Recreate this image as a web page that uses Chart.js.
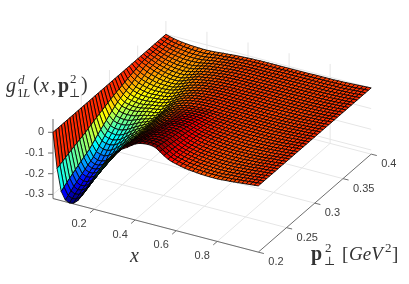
<!DOCTYPE html>
<html>
<head>
<meta charset="utf-8">
<style>
  html, body { margin: 0; padding: 0; background: #fff; }
  canvas { display: block; }
</style>
<script src="https://cdn.jsdelivr.net/npm/chart.js@4"></script>
</head>
<body>
<canvas id="surface" width="409" height="284"></canvas>
<script>
const xValues = [0,.02,.04,.06,.08,.1,.12,.14,.16,.18,.2,.22,.24,.26,.28,.3,.32,.34,.36,.38,.4,.42,.44,.46,.48,.5,.52,.54,.56,.58,.6,.62,.64,.66,.68,.7,.72,.74,.76,.78,.8,.82,.84,.86,.88,.9,.92,.94,.96,.98,1];
const pValues = [.2,.205,.21,.215,.22,.225,.23,.235,.24,.245,.25,.255,.26,.265,.27,.275,.28,.285,.29,.295,.3,.305,.31,.315,.32,.325,.33,.335,.34,.345,.35,.355,.36,.365,.37,.375,.38,.385,.39,.395,.4];
const xTicks = [.2,.4,.6,.8];
const pTicks = [.2,.25,.3,.35,.4];
const zTicks = [0,-.1,-.2,-.3];
const xTickLabels = ['0.2','0.4','0.6','0.8'];
const pTickLabels = ['0.2','0.25','0.3','0.35','0.4'];
const zTickLabels = ['0','-0.1','-0.2','-0.3'];

// g values in thousandths, one row per p, one column per x
const gRows = [
[0,-170,-275,-312,-321,-317,-300,-272,-240,-205,-170,-132,-98,-70,-46,-24,-5,8,20,34,47,55,59,61,60,55,41,27,15,7,2,-3,-7,-10,-12,-14,-16,-17,-18,-18,-18,-17,-15,-14,-12,-10,-8,-6,-4,-2,0],
[0,-164,-266,-302,-311,-308,-292,-265,-234,-200,-167,-130,-98,-71,-48,-26,-8,6,18,31,44,52,56,58,57,52,39,26,14,7,2,-3,-7,-10,-12,-14,-15,-16,-17,-17,-17,-17,-15,-14,-12,-10,-8,-6,-4,-2,0],
[0,-158,-256,-292,-301,-298,-283,-258,-228,-196,-163,-129,-98,-73,-50,-28,-10,3,15,28,40,48,53,55,54,49,37,24,13,6,2,-3,-7,-9,-11,-13,-15,-16,-17,-17,-17,-16,-14,-13,-12,-10,-8,-6,-4,-2,0],
[0,-152,-247,-282,-292,-289,-275,-251,-222,-191,-160,-127,-99,-74,-51,-31,-13,1,13,25,37,45,49,51,51,46,34,23,13,6,1,-3,-6,-9,-11,-13,-14,-15,-16,-16,-16,-16,-14,-13,-11,-10,-8,-6,-4,-2,0],
[0,-146,-238,-273,-283,-280,-267,-244,-217,-187,-157,-126,-99,-75,-53,-33,-15,-1,11,23,34,42,47,49,48,43,32,21,12,6,1,-3,-6,-9,-11,-12,-14,-15,-16,-16,-16,-15,-14,-13,-11,-10,-8,-6,-4,-2,0],
[0,-141,-230,-264,-274,-272,-260,-238,-211,-183,-154,-125,-99,-76,-54,-35,-17,-4,8,20,31,39,44,46,45,41,30,20,11,5,1,-3,-6,-8,-10,-12,-13,-14,-15,-15,-15,-15,-13,-12,-11,-9,-7,-5,-4,-2,0],
[0,-135,-221,-255,-265,-263,-252,-232,-206,-179,-151,-123,-99,-78,-56,-37,-20,-6,6,18,28,36,41,43,42,38,28,19,11,5,1,-3,-6,-8,-10,-11,-13,-14,-15,-15,-15,-14,-13,-12,-11,-9,-7,-5,-4,-2,0],
[0,-130,-213,-246,-256,-255,-245,-225,-201,-174,-148,-122,-99,-79,-58,-39,-22,-8,4,15,25,33,38,40,40,35,26,18,10,5,1,-3,-6,-8,-10,-11,-12,-13,-14,-14,-14,-14,-13,-12,-11,-9,-7,-5,-4,-2,0],
[0,-125,-205,-238,-248,-247,-238,-220,-196,-171,-145,-121,-100,-80,-59,-40,-24,-10,2,13,22,30,35,37,37,33,25,16,9,5,0,-3,-5,-8,-10,-11,-12,-13,-14,-14,-14,-14,-12,-11,-10,-9,-7,-5,-4,-2,0],
[0,-120,-198,-230,-240,-240,-231,-214,-191,-167,-143,-119,-100,-81,-61,-42,-26,-12,0,10,20,27,32,34,34,30,23,15,9,4,0,-3,-5,-7,-9,-10,-11,-12,-13,-13,-13,-13,-12,-11,-10,-9,-7,-5,-4,-2,0],
[0,-115,-190,-222,-232,-232,-224,-208,-186,-163,-140,-118,-100,-82,-62,-44,-28,-14,-2,8,17,25,30,32,32,28,21,14,8,4,0,-3,-5,-7,-9,-10,-11,-12,-13,-13,-13,-13,-12,-11,-10,-9,-7,-5,-4,-2,0],
[0,-108,-178,-208,-217,-218,-211,-196,-176,-155,-134,-114,-98,-80,-61,-43,-28,-15,-3,6,14,22,26,28,28,25,18,12,6,3,0,-3,-5,-7,-9,-10,-11,-12,-13,-13,-13,-13,-12,-11,-10,-9,-7,-5,-4,-2,0],
[0,-102,-166,-194,-203,-204,-197,-184,-166,-147,-128,-111,-96,-79,-60,-43,-28,-15,-5,4,12,18,22,24,24,21,15,10,5,2,-1,-4,-5,-7,-9,-10,-11,-11,-12,-12,-12,-12,-11,-10,-9,-8,-7,-5,-4,-2,0],
[0,-95,-154,-180,-188,-189,-184,-172,-156,-139,-122,-107,-93,-77,-59,-42,-28,-16,-6,2,9,15,19,20,20,18,13,8,3,1,-2,-4,-6,-7,-9,-10,-10,-11,-12,-12,-12,-12,-11,-10,-9,-8,-6,-5,-4,-2,0],
[0,-89,-143,-167,-175,-177,-172,-162,-147,-132,-117,-104,-91,-76,-58,-41,-28,-17,-7,0,7,12,15,17,17,15,10,6,2,0,-3,-5,-6,-7,-9,-9,-10,-11,-11,-11,-11,-11,-10,-10,-9,-8,-6,-5,-4,-2,0],
[0,-83,-132,-155,-162,-164,-160,-151,-138,-124,-112,-101,-89,-75,-57,-41,-28,-17,-8,-1,4,9,12,14,13,12,8,4,1,-1,-3,-5,-6,-8,-8,-9,-10,-10,-11,-11,-11,-11,-10,-9,-8,-7,-6,-4,-3,-1,0],
[0,-77,-121,-142,-149,-151,-148,-140,-129,-117,-107,-97,-87,-73,-56,-40,-28,-18,-9,-3,2,6,9,10,10,8,5,2,0,-2,-4,-6,-6,-8,-8,-9,-10,-10,-10,-10,-10,-10,-9,-9,-8,-7,-6,-4,-3,-1,0],
[0,-71,-110,-129,-136,-138,-136,-129,-120,-110,-101,-94,-85,-72,-55,-40,-28,-18,-11,-5,0,3,5,6,6,5,3,0,-2,-3,-4,-6,-7,-8,-8,-9,-9,-9,-10,-10,-10,-10,-9,-9,-8,-7,-6,-4,-3,-1,0],
[0,-66,-100,-118,-124,-126,-125,-119,-111,-103,-97,-91,-84,-71,-54,-39,-28,-19,-12,-6,-3,0,2,3,3,3,1,-2,-3,-4,-5,-6,-7,-8,-8,-8,-9,-9,-10,-10,-10,-10,-9,-8,-8,-7,-5,-4,-3,-1,0],
[0,-60,-90,-106,-112,-114,-113,-110,-103,-96,-92,-88,-82,-69,-53,-39,-28,-20,-13,-8,-5,-2,-1,0,0,0,-1,-3,-5,-5,-5,-7,-7,-8,-8,-8,-9,-9,-9,-9,-9,-9,-8,-8,-7,-6,-5,-4,-3,-1,0],
[0,-55,-80,-95,-100,-103,-103,-100,-95,-90,-87,-85,-80,-68,-52,-38,-28,-20,-14,-10,-7,-5,-4,-3,-3,-3,-4,-5,-6,-6,-6,-7,-7,-8,-8,-8,-9,-9,-9,-9,-9,-9,-8,-8,-7,-6,-5,-4,-3,-1,0],
[0,-50,-74,-88,-93,-97,-97,-95,-91,-86,-84,-81,-76,-64,-49,-36,-27,-20,-14,-10,-7,-5,-4,-3,-3,-3,-4,-5,-6,-6,-6,-7,-7,-8,-8,-8,-9,-9,-9,-9,-9,-9,-8,-8,-7,-6,-5,-4,-3,-1,0],
[0,-46,-67,-81,-86,-90,-91,-90,-86,-83,-80,-77,-72,-61,-47,-35,-26,-19,-14,-10,-8,-6,-5,-4,-4,-4,-5,-5,-6,-6,-6,-7,-7,-8,-8,-8,-9,-9,-9,-9,-9,-9,-8,-8,-7,-6,-5,-4,-3,-1,0],
[0,-41,-61,-74,-80,-84,-85,-85,-82,-79,-77,-73,-67,-57,-44,-33,-25,-19,-14,-11,-8,-6,-5,-4,-4,-4,-5,-6,-6,-6,-6,-7,-7,-8,-8,-8,-9,-9,-9,-9,-9,-9,-8,-8,-7,-6,-5,-4,-3,-1,0],
[0,-37,-55,-67,-73,-78,-80,-80,-78,-76,-74,-70,-64,-53,-41,-32,-25,-19,-14,-11,-8,-7,-6,-5,-5,-5,-5,-6,-6,-6,-6,-7,-7,-8,-8,-8,-9,-9,-9,-9,-9,-9,-8,-8,-7,-6,-5,-4,-3,-1,0],
[0,-32,-49,-61,-67,-72,-75,-76,-74,-73,-71,-66,-60,-50,-39,-31,-24,-18,-14,-11,-9,-7,-6,-5,-5,-5,-6,-6,-6,-6,-7,-7,-7,-8,-8,-8,-8,-8,-9,-9,-9,-8,-8,-8,-7,-6,-5,-4,-3,-1,0],
[0,-28,-43,-54,-61,-66,-70,-71,-70,-69,-67,-63,-56,-47,-36,-29,-23,-18,-14,-11,-9,-7,-6,-5,-5,-5,-6,-6,-6,-6,-7,-7,-7,-8,-8,-8,-8,-8,-8,-8,-8,-8,-8,-8,-7,-6,-5,-4,-3,-1,0],
[0,-24,-37,-48,-55,-60,-64,-66,-67,-66,-64,-59,-52,-43,-34,-28,-22,-18,-14,-11,-9,-8,-7,-6,-6,-6,-6,-6,-7,-7,-7,-7,-7,-8,-8,-8,-8,-8,-8,-8,-8,-8,-8,-8,-7,-6,-5,-4,-3,-1,0],
[0,-20,-32,-42,-49,-55,-60,-62,-63,-63,-62,-56,-49,-40,-32,-26,-21,-17,-14,-12,-10,-8,-7,-6,-6,-6,-6,-7,-7,-7,-7,-7,-7,-8,-8,-8,-8,-8,-8,-8,-8,-8,-8,-7,-7,-6,-5,-4,-3,-1,0],
[0,-16,-26,-36,-44,-49,-55,-58,-60,-60,-59,-53,-45,-37,-29,-25,-21,-17,-14,-12,-10,-9,-8,-7,-7,-7,-7,-7,-7,-7,-7,-7,-7,-8,-8,-8,-8,-8,-8,-8,-8,-8,-8,-7,-7,-6,-5,-4,-3,-1,0],
[0,-12,-21,-30,-38,-44,-50,-54,-56,-57,-56,-50,-42,-34,-27,-24,-20,-17,-14,-12,-10,-9,-8,-7,-7,-7,-7,-7,-7,-7,-7,-7,-7,-8,-8,-8,-8,-8,-8,-8,-8,-8,-8,-7,-7,-6,-5,-4,-3,-1,0],
[0,-11,-20,-28,-36,-42,-47,-51,-53,-54,-53,-47,-40,-33,-26,-23,-20,-17,-14,-12,-10,-9,-8,-7,-7,-7,-7,-7,-7,-7,-7,-7,-7,-8,-8,-8,-8,-8,-8,-8,-8,-8,-8,-7,-7,-6,-5,-4,-3,-1,0],
[0,-11,-19,-27,-34,-39,-44,-47,-49,-50,-49,-44,-38,-31,-25,-23,-19,-16,-14,-12,-10,-9,-8,-7,-7,-7,-8,-8,-8,-8,-8,-8,-8,-8,-8,-8,-8,-8,-8,-8,-8,-8,-8,-7,-7,-6,-5,-4,-3,-1,0],
[0,-10,-18,-25,-32,-37,-41,-44,-46,-47,-46,-41,-36,-30,-25,-22,-19,-16,-14,-12,-10,-9,-9,-8,-8,-8,-8,-8,-8,-8,-8,-8,-8,-8,-8,-8,-8,-8,-8,-8,-8,-8,-8,-7,-7,-6,-5,-4,-3,-1,0],
[0,-9,-17,-24,-30,-34,-38,-41,-42,-43,-43,-39,-34,-28,-24,-21,-18,-16,-14,-12,-10,-9,-9,-8,-8,-8,-8,-8,-8,-8,-8,-8,-8,-8,-8,-8,-8,-8,-8,-8,-8,-8,-8,-7,-7,-6,-5,-4,-3,-1,0],
[0,-9,-16,-23,-28,-32,-36,-38,-40,-41,-40,-37,-32,-27,-23,-21,-18,-16,-14,-12,-10,-9,-9,-8,-8,-8,-8,-8,-8,-8,-8,-8,-8,-8,-8,-8,-8,-8,-8,-8,-8,-8,-8,-7,-7,-6,-5,-4,-3,-1,0],
[0,-8,-15,-21,-26,-29,-33,-35,-37,-37,-36,-34,-30,-26,-22,-20,-17,-15,-13,-12,-11,-9,-9,-8,-8,-8,-8,-8,-8,-8,-8,-8,-8,-8,-8,-8,-8,-8,-8,-8,-8,-8,-8,-7,-7,-6,-5,-4,-3,-1,0],
[0,-8,-14,-19,-23,-27,-30,-32,-33,-34,-33,-31,-28,-24,-21,-20,-17,-15,-13,-12,-11,-10,-9,-9,-9,-9,-9,-9,-9,-8,-8,-8,-8,-8,-8,-8,-8,-8,-8,-8,-8,-8,-8,-7,-7,-6,-5,-4,-3,-1,0],
[0,-7,-13,-18,-21,-24,-27,-29,-30,-31,-31,-29,-26,-23,-20,-19,-17,-15,-13,-12,-11,-10,-10,-9,-9,-9,-9,-9,-9,-8,-8,-8,-8,-8,-8,-8,-8,-8,-8,-8,-8,-8,-7,-7,-7,-6,-5,-4,-2,-1,0],
[0,-6,-12,-16,-19,-22,-24,-26,-27,-28,-28,-26,-24,-22,-19,-19,-16,-14,-13,-12,-11,-10,-10,-9,-9,-9,-9,-9,-9,-9,-8,-8,-8,-8,-8,-8,-8,-8,-8,-8,-8,-8,-7,-7,-7,-6,-5,-4,-2,-1,0],
[0,-6,-11,-15,-18,-20,-22,-23,-24,-25,-25,-24,-23,-21,-19,-18,-16,-14,-13,-12,-11,-10,-10,-9,-9,-9,-9,-9,-9,-9,-9,-9,-9,-9,-9,-9,-8,-8,-8,-8,-8,-8,-7,-7,-6,-5,-4,-3,-2,-1,0],
];

const zFloor = -0.32;
const zTop = 0.064;
const zRange = zTop - zFloor;

// fixed view: orthographic projection of (x, p, g) onto the hidden page scales
const project = (x, p, z) => ({
  x: 53 + 205.3 * x + 564.5 * (p - 0.2),
  y: 132.3 + 53.6 * x - 490 * (p - 0.2) - 207 * z,
});

function jet(z) {
  const f = Math.min(1, Math.max(0, (z - zFloor) / zRange));
  const band = c => Math.round(255 * Math.min(1, Math.max(0, 1.5 - Math.abs(4 * f - c))));
  return `rgb(${band(3)},${band(2)},${band(1)})`;
}

const datasets = [];

// near cells first: chart.js paints the last dataset first
for (let j = 0; j < pValues.length - 1; j++) {
  for (let i = xValues.length - 2; i >= 0; i--) {
    const z = (a, b) => gRows[b][a] / 1000;
    const corners = [[i, j], [i + 1, j], [i + 1, j + 1], [i, j + 1], [i, j]];
    datasets.push({
      data: corners.map(([a, b]) => project(xValues[a], pValues[b], z(a, b))),
      backgroundColor: jet(z(i, j)),
      borderColor: '#000',
      borderWidth: 0.85,
      fill: 'shape',
      showLine: true,
      pointRadius: 0,
      tension: 0,
      clip: false,
    });
  }
}

function addLine(points, color, width) {
  datasets.push({
    data: points,
    borderColor: color,
    borderWidth: width,
    showLine: true,
    fill: false,
    pointRadius: 0,
    clip: false,
  });
}

const axisColor = '#6e6e6e';
const xMin = 0, xMax = 1, pMin = 0.2, pMax = 0.4;

xTicks.forEach(x => {
  const base = project(x, pMin, zFloor);
  addLine([base, { x: base.x - 4, y: base.y + 3.5 }], axisColor, 1);
});
pTicks.forEach(p => {
  const base = project(xMax, p, zFloor);
  addLine([base, { x: base.x + 5.6, y: base.y + 1.4 }], axisColor, 1);
});
zTicks.forEach(z => {
  const base = project(xMin, pMin, z);
  addLine([base, { x: base.x - 5, y: base.y }], axisColor, 1);
});
addLine([project(xMin, pMin, zFloor), project(xMax, pMin, zFloor)], axisColor, 1);
addLine([project(xMax, pMin, zFloor), project(xMax, pMax, zFloor)], axisColor, 1);
addLine([project(xMin, pMin, zFloor), project(xMin, pMin, zTop)], '#b4b4b4', 2);

const gridColor = '#e6e6e6';
xTicks.forEach(x => {
  addLine([project(x, pMin, zFloor), project(x, pMax, zFloor), project(x, pMax, zTop)], gridColor, 1);
});
pTicks.forEach(p => {
  addLine([project(xMax, p, zFloor), project(xMin, p, zFloor), project(xMin, p, zTop)], gridColor, 1);
});
zTicks.forEach(z => {
  addLine([project(xMin, pMin, z), project(xMin, pMax, z), project(xMax, pMax, z)], gridColor, 1);
});

const serif = '"Liberation Serif", serif';
const labelRuns = [
  ['g', 6, 92, `italic 20px ${serif}`],
  ['d', 18, 84, `italic 13px ${serif}`],
  ['1', 17, 97, `13px ${serif}`],
  ['L', 23, 97, `italic 13px ${serif}`],
  ['(', 33, 91, `20px ${serif}`],
  ['x', 40, 92, `italic 20px ${serif}`],
  [',', 51, 92, `20px ${serif}`],
  ['p', 58, 92, `bold 20px ${serif}`],
  ['2', 70, 83, `13px ${serif}`],
  ['⊥', 69, 97, `12px "DejaVu Serif", serif`],
  [')', 81, 91, `20px ${serif}`],
  ['x', 130, 262, `italic 20px ${serif}`],
  ['p', 311, 260, `bold 20px ${serif}`],
  ['2', 325, 252, `13px ${serif}`],
  ['⊥', 324, 265, `12px "DejaVu Serif", serif`],
  ['[', 342, 260, `19px ${serif}`],
  ['GeV', 349, 260, `italic 19px ${serif}`],
  ['2', 385, 252, `13px ${serif}`],
  [']', 392, 260, `19px ${serif}`],
];
const tickFont = '11px "Liberation Sans", sans-serif';
const tickColor = '#404040';

const labelPlugin = {
  id: 'labels',
  afterDraw(chart) {
    const ctx = chart.ctx;
    ctx.save();
    ctx.fillStyle = tickColor;
    ctx.font = tickFont;
    ctx.textBaseline = 'middle';
    ctx.textAlign = 'right';
    zTicks.forEach((z, i) => {
      ctx.fillText(zTickLabels[i], 44, project(0, pMin, z).y);
    });
    ctx.textAlign = 'center';
    xTicks.forEach((x, i) => {
      const base = project(x, pMin, zFloor);
      ctx.fillText(xTickLabels[i], base.x - 15, base.y + 14.5);
    });
    ctx.textAlign = 'left';
    pTicks.forEach((p, i) => {
      const base = project(xMax, p, zFloor);
      ctx.fillText(pTickLabels[i], base.x + 10, base.y + 10);
    });
    ctx.textBaseline = 'alphabetic';
    ctx.fillStyle = '#333';
    labelRuns.forEach(([text, x, y, font]) => {
      ctx.font = font;
      ctx.fillText(text, x, y);
    });
    ctx.restore();
  },
};

new Chart(document.getElementById('surface'), {
  type: 'scatter',
  data: { datasets },
  plugins: [labelPlugin],
  options: {
    responsive: false,
    animation: false,
    events: [],
    layout: { padding: 0 },
    plugins: { legend: { display: false }, tooltip: { enabled: false }, title: { display: false } },
    scales: {
      x: { type: 'linear', display: false, min: 0, max: 409 },
      y: { type: 'linear', display: false, min: 0, max: 284, reverse: true },
    },
  },
});
</script>
</body>
</html>
